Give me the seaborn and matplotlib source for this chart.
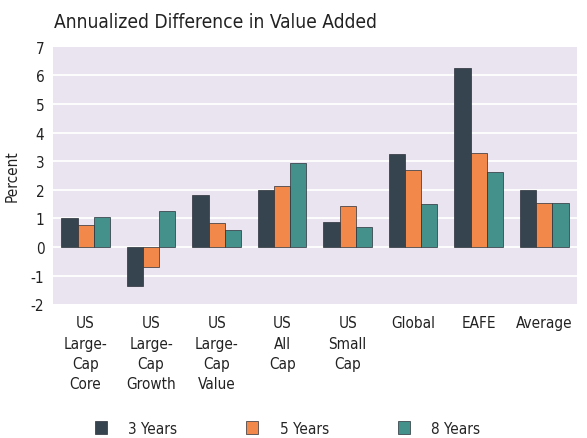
import matplotlib
matplotlib.use("Agg")
import matplotlib.pyplot as plt
import seaborn as sns
import pandas as pd

categories = ["US\nLarge-\nCap\nCore", "US\nLarge-\nCap\nGrowth", "US\nLarge-\nCap\nValue",
              "US\nAll\nCap", "US\nSmall\nCap", "Global", "EAFE", "Average"]
periods = ["3 Years", "5 Years", "8 Years"]
values_3y = [1.02, -1.37, 1.80, 1.98, 0.87, 3.25, 6.25, 2.00]
values_5y = [0.78, -0.70, 0.85, 2.12, 1.42, 2.70, 3.30, 1.52]
values_8y = [1.03, 1.26, 0.58, 2.92, 0.71, 1.50, 2.63, 1.54]
colors = ["#36444f", "#f2884a", "#44908a"]

rows = []
for p, vals in zip(periods, [values_3y, values_5y, values_8y]):
    for c, v in zip(categories, vals):
        rows.append({"Category": c, "Period": p, "Value": v})
df = pd.DataFrame(rows)

sns.set_style("white")
plt.rcParams['font.family'] = ['DejaVu Sans']
plt.rcParams['font.stretch'] = 'condensed'
plt.rcParams['axes.unicode_minus'] = False

fig = plt.figure(figsize=(5.87, 4.39), dpi=100)
ax = fig.add_axes([0.090, 0.305, 0.893, 0.586])
ax.set_facecolor("#e9e4f0")

sns.barplot(data=df, x="Category", y="Value", hue="Period", order=categories,
            hue_order=periods, palette=colors, saturation=1, width=0.74, ax=ax,
            edgecolor="#2a2f38", linewidth=0.5, zorder=3, legend=True)

ax.set_ylim(-2, 7)
ax.set_xlim(-0.5, 7.5)
ax.set_yticks(range(-2, 8))
for y in range(-1, 7):
    ax.axhline(y, color="white", lw=1.3, zorder=1)
for s in ax.spines.values():
    s.set_visible(False)
ax.tick_params(axis="both", length=0, labelsize=11, colors="#222222")
ax.tick_params(axis="y", pad=6)
ax.tick_params(axis="x", pad=8)
for lab in ax.get_xticklabels():
    lab.set_linespacing(1.45)
    lab.set_verticalalignment("top")
ax.set_xlabel("")
ax.set_ylabel("Percent", fontsize=11, color="#222222", labelpad=8)
ax.set_title("Annualized Difference in Value Added", loc="left", fontsize=13.8,
             color="#222222", pad=14, x=0.003)

handles, labels = ax.get_legend_handles_labels()
ax.get_legend().remove()
fig.legend(handles, labels, loc="center", bbox_to_anchor=(0.49, 0.022), ncol=3,
           frameon=False, fontsize=11, handlelength=0.8, handleheight=1.0,
           handletextpad=1.4, columnspacing=4.5)

fig.savefig("out.png", dpi=100)
